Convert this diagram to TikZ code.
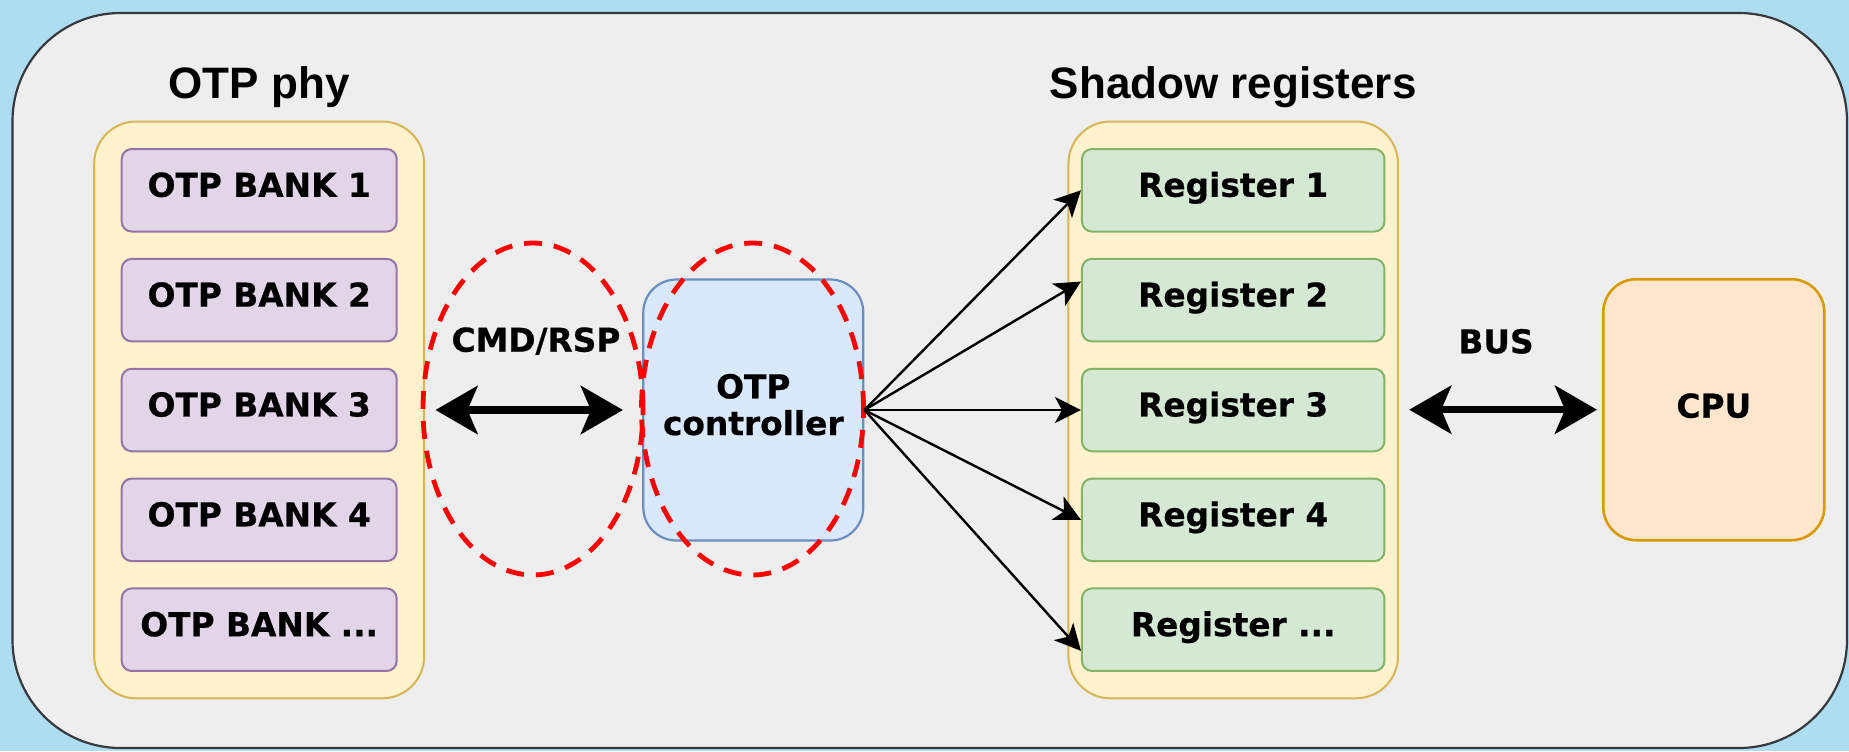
\documentclass[tikz,border=0pt]{standalone}
\usepackage{fontspec}
\setmainfont{DejaVu Sans}[BoldFeatures={FakeBold=0.6}]
\newfontfamily\titlefont{Liberation Sans}
\usetikzlibrary{arrows.meta,calc,shapes.geometric}

\definecolor{bgblue}{HTML}{AEDCF0}
\definecolor{framefill}{HTML}{EEEEEE}
\definecolor{frameline}{HTML}{36393D}
\definecolor{grpfill}{HTML}{FFF2CC}
\definecolor{grpline}{HTML}{D6B656}
\definecolor{bankfill}{HTML}{E1D5E7}
\definecolor{bankline}{HTML}{9673A6}
\definecolor{regfill}{HTML}{D5E8D4}
\definecolor{regline}{HTML}{82B366}
\definecolor{ctrlfill}{HTML}{DAE8FC}
\definecolor{ctrlline}{HTML}{6C8EBF}
\definecolor{cpufill}{HTML}{FFE6CC}
\definecolor{cpuline}{HTML}{D79B00}
\definecolor{ringred}{HTML}{FF0000}

\tikzset{
  frame/.style={fill=framefill, draw=frameline, line width=1.1pt, rounded corners=54pt},
  labelfont/.style={font=\bfseries\fontsize{16.4}{18.35}\selectfont},
  box/.style={draw, labelfont, rounded corners=5pt, line width=1pt, inner sep=0pt,
    text height=11.95pt, text depth=5.5pt, align=center},
  bank/.style={box, fill=bankfill, draw=bankline, minimum width=137.5pt, minimum height=41.25pt},
  reg/.style={box, fill=regfill, draw=regline, minimum width=151.25pt, minimum height=41.25pt},
  group/.style={draw=grpline, fill=grpfill, rounded corners=21pt, line width=1pt,
    inner sep=0pt, minimum height=288.4pt},
  unit/.style={box, rounded corners=16.5pt, line width=1.1pt, minimum width=110pt, minimum height=130.5pt},
  ring/.style={ellipse, draw=ringred, line width=2.4pt, dash pattern=on 9pt off 6pt,
    inner sep=0pt, minimum width=110pt, minimum height=166pt},
  title/.style={font=\titlefont\bfseries\fontsize{22}{26}\selectfont, inner sep=0pt, anchor=base},
  lbl/.style={labelfont, inner sep=0pt, anchor=base},
  fan/.style={-{Stealth[length=13pt, width=13pt, inset=3.5pt]}, line width=1.2pt},
  bidir/.style={{Stealth[length=21pt, width=24pt, inset=5pt]}-{Stealth[length=21pt, width=24pt, inset=5pt]},
    line width=3.6pt},
}

\begin{document}
\begin{tikzpicture}[x=0.5pt, y=-0.5pt]
\useasboundingbox (0,0) rectangle (1849,751);
\fill[bgblue] (0,0) rectangle (1849,751);
\draw[frame] (12.5,13) rectangle (1847,748);

% column titles
\node[title] (phytitle) at (259.2,98.3) {OTP phy};
\node[title] (shadowtitle) at (1233.2,98.3) {Shadow registers};

% OTP phy banks
\node[group, minimum width=165pt] (phy) at (259.2,409.9) {};
\node[bank] (b1) at (259.2,190.3) {OTP BANK 1};
\node[bank] (b2) at (259.2,300.15) {OTP BANK 2};
\node[bank] (b3) at (259.2,410) {OTP BANK 3};
\node[bank] (b4) at (259.2,519.85) {OTP BANK 4};
\node[bank] (b5) at (259.2,629.7) {OTP BANK ...};

% shadow registers
\node[group, minimum width=164.75pt] (shadow) at (1233.2,409.9) {};
\node[reg] (r1) at (1233.2,190.3) {Register 1};
\node[reg] (r2) at (1233.2,300.15) {Register 2};
\node[reg] (r3) at (1233.2,410) {Register 3};
\node[reg] (r4) at (1233.2,519.85) {Register 4};
\node[reg] (r5) at (1233.2,629.7) {Register ...};

% controller and CPU
\node[unit, fill=ctrlfill, draw=ctrlline, text height=25pt, text depth=0pt] (ctrl) at (753.3,410) {OTP\\controller};
\node[unit, fill=cpufill, draw=cpuline, line width=1.3pt, text depth=4pt, minimum width=110.5pt] (cpu) at (1713.8,409.7) {CPU};

% highlighted interface regions
\node[ring] (ring1) at (533,409) {};
\node[ring, minimum width=111pt] (ring2) at (752.5,409) {};

% command / response link
\node[lbl] (cmd) at (536,351.7) {CMD/RSP};
\draw[bidir, shorten <=5.15pt, shorten >=9.65pt] (phy.east |- ctrl.west) -- (ctrl.west);

% controller fans out to the registers
\coordinate (r2in) at ($(r2.north west)!0.28!(r2.south west)$);
\coordinate (r5in) at ($(r5.north west)!0.75!(r5.south west)$);
\draw[fan] (ctrl.east) -- (r1.west);
\draw[fan] (ctrl.east) -- (r2in);
\draw[fan] (ctrl.east) -- (r3.west);
\draw[fan] (ctrl.east) -- (r4.west);
\draw[fan] (ctrl.east) -- (r5in);

% bus to the CPU
\node[lbl] (bus) at (1496,353.3) {BUS};
\draw[bidir, shorten <=5.15pt, shorten >=2.5pt] (shadow.east |- cpu.west) -- (cpu.west);
\end{tikzpicture}
\end{document}
